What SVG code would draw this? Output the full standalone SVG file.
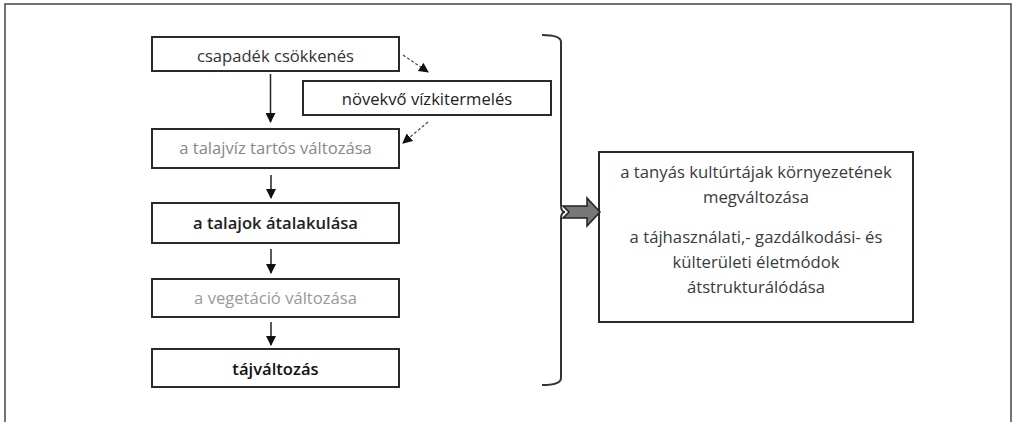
<svg xmlns="http://www.w3.org/2000/svg" width="1022" height="422" viewBox="0 0 1022 422">
<style>
.box{fill:#fff;stroke:#2a2a2a;stroke-width:2}
.t{font-family:"Open Sans","Liberation Sans",sans-serif;font-size:16.6px;text-anchor:middle}
.r{font-family:"Open Sans","Liberation Sans",sans-serif;font-size:16.7px;text-anchor:middle;fill:#3a3a3a}
.ln{stroke:#222;stroke-width:1.5;fill:none}
.dash{stroke:#444;stroke-width:1.2;fill:none;stroke-dasharray:3,2}
</style>
<defs>
<marker id="ah" markerWidth="10" markerHeight="10" refX="9" refY="5" orient="auto" markerUnits="userSpaceOnUse">
<path d="M0,0 L10,5 L0,10 Z" fill="#111"/>
</marker>
</defs>
<rect x="5" y="4" width="1006" height="430" fill="#fff" stroke="#444" stroke-width="1.5"/>
<g id="n1"><rect class="box" x="152" y="37" width="247" height="34"/><text class="t" x="275.5" y="62" fill="#333">csapadék csökkenés</text></g>
<g id="n2"><rect class="box" x="303" y="81" width="248" height="34"/><text class="t" x="427" y="105" fill="#222">növekvő vízkitermelés</text></g>
<g id="n3"><rect class="box" x="152" y="129" width="247" height="39"/><text class="t" x="275.5" y="154" fill="#888">a talajvíz tartós változása</text></g>
<g id="n4"><rect class="box" x="152" y="203" width="247" height="40"/><text class="t" x="275.5" y="229" fill="#222" font-weight="600">a talajok átalakulása</text></g>
<g id="n5"><rect class="box" x="152" y="279" width="247" height="38"/><text class="t" x="275.5" y="304" fill="#999">a vegetáció változása</text></g>
<g id="n6"><rect class="box" x="152" y="349" width="247" height="38"/><text class="t" x="275.5" y="375" fill="#111" font-weight="600">tájváltozás</text></g>
<g id="n7"><rect class="box" x="599" y="152" width="314" height="170"/>
<text class="r" x="756" y="178">a tanyás kultúrtájak környezetének</text>
<text class="r" x="756" y="203">megváltozása</text>
<text class="r" x="756" y="243">a tájhasználati,- gazdálkodási- és</text>
<text class="r" x="756" y="268">külterületi életmódok</text>
<text class="r" x="756" y="293">átstrukturálódása</text>
</g>
<g id="connectors">
<line class="ln" x1="270.5" y1="74" x2="270.5" y2="122" marker-end="url(#ah)"/>
<line class="ln" x1="271" y1="175" x2="271" y2="198" marker-end="url(#ah)"/>
<line class="ln" x1="271" y1="249" x2="271" y2="273" marker-end="url(#ah)"/>
<line class="ln" x1="271" y1="322" x2="271" y2="345" marker-end="url(#ah)"/>
<line class="dash" x1="403" y1="55" x2="428" y2="72" marker-end="url(#ah)"/>
<line class="dash" x1="428" y1="122" x2="403" y2="143" marker-end="url(#ah)"/>
<path d="M542,35 Q561,35 561,42 L561,205 Q561,212 565,212 Q561,212 561,219 L561,378 Q561,385 542,385" stroke="#333" stroke-width="2" fill="none"/>
<path d="M563,206 L587,206 L587,198 L600,212 L587,226 L587,218 L563,218 L569,212 Z" fill="#777" stroke="#222" stroke-width="1.5"/>
</g>
</svg>
